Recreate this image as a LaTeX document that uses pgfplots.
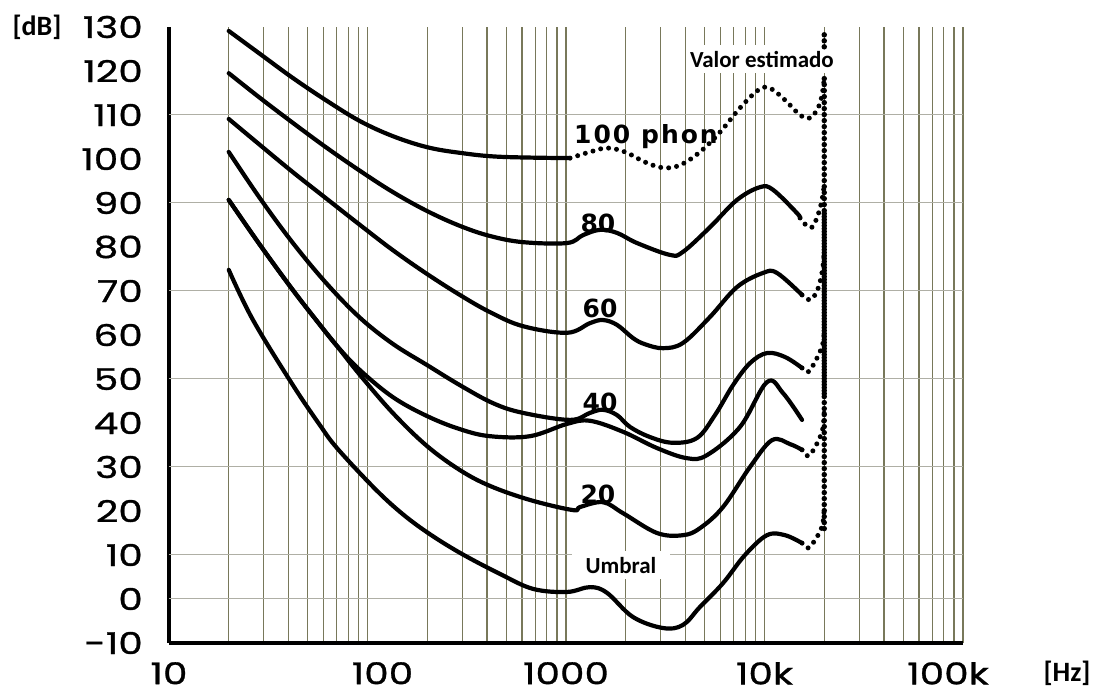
\documentclass[border=0pt]{standalone}
\usepackage{pgfplots}
\pgfplotsset{compat=1.18}
\usepackage{fontspec}
\setmainfont{Carlito}
\newfontfamily\tickfont[FakeStretch=1.3, FakeBold=1]{Poppins}
\newfontfamily\numfont{DejaVu Sans}
\newfontfamily\phonfont[LetterSpace=8]{DejaVu Sans}
\definecolor{gridv}{RGB}{120,120,90}
\definecolor{gridh}{RGB}{175,175,165}
\pgfplotsset{
  crv/.style={black, line width=4.2pt, smooth, tension=0.6, line join=round, line cap=round},
  dts/.style={black, line width=5pt, line cap=round, dash pattern=on 0pt off 8pt, smooth, tension=0.6},
}
\begin{document}
\begin{tikzpicture}
\useasboundingbox (-169pt,-52pt) rectangle (924pt,643pt);
\begin{axis}[
  at={(0pt,0pt)}, anchor=south west,
  scale only axis, width=794pt, height=616pt,
  xmode=log, xmin=10, xmax=100000, ymin=-10, ymax=130,
  clip=false,
  axis x line=bottom, axis y line=left,
  axis line style={-, line width=3.5pt, black},
  xtick={10,100,1000,10000,100000},
  xticklabels={10,{\kern30pt 100},1000,10k,{100k\kern30pt}},
  ytick={-10,0,...,130},
  yticklabels={-10,0,10,20,30,40,50,60,70,80,90,100,110,120,130},
  major tick length=0pt, minor tick length=0pt,
  xmajorgrids, xminorgrids, ymajorgrids=false,
  major grid style={draw=gridv, line width=1.2pt},
  minor grid style={draw=gridv, line width=1.2pt},
  extra y ticks={0,10,30,50,70,90,110},
  extra y tick labels={},
  extra y tick style={grid=major, major grid style={draw=gridh, line width=1pt}},
  ticklabel style={font=\tickfont\fontsize{30}{30}\selectfont, inner sep=0pt},
  yticklabel style={anchor=east, xshift=-26pt},
  xticklabel style={anchor=north, yshift=-19pt},
]
% labels with white background (drawn first)
\node[fill=white, font=\bfseries\fontsize{23}{23}\selectfont, inner xsep=14pt, inner ysep=6pt, anchor=base] at (axis cs:1892,5.9) {Umbral};
\node[fill=white, font=\bfseries\fontsize{23}{23}\selectfont, inner xsep=2pt, inner ysep=6pt, anchor=base] at (axis cs:9705,120.9) {Valor estimado};

% 100 phon
\addplot[crv] coordinates {(20,129.1) (28.7,123.9) (42.1,118.4) (62.5,113.2) (91.7,108.6) (134,105.2) (199,102.7) (292,101.4) (465,100.5) (1048,100.2)};
\addplot[dts] coordinates {(1048,100.2) (1321,101.6) (1609,102.5) (1983,101.6) (2500,99.3) (3082,98.0) (3752,98.6) (4732,101.6) (5969,106.1) (7527,111.6) (9330,115.7) (10660,116.1) (12686,113.4) (15100,110.0) (16955,109.3) (18602,111.6) (19488,114.5) (20000,118.4)};
% 80 phon
\addplot[crv] coordinates {(20,119.5) (28.7,113.9) (42.1,108.2) (62.5,102.5) (91.7,97.3) (134,92.5) (199,88.2) (292,84.8) (414,82.5) (607,81.1) (1012,80.9) (1218,82.7) (1484,83.9) (1807,83.2) (2279,80.9) (3341,78.2) (3885,78.9) (5314,84.5) (7270,90.7) (9491,93.6) (11036,93.0) (14580,87.7) (15100,86.6)};
\addplot[dts] coordinates {(15100,86.6) (16000,85.2) (17353,84.5) (18602,87.3) (19488,90.7) (20000,94.1)};
% 60 phon
\addplot[crv] coordinates {(20,109.1) (28.7,103.2) (42.1,97.0) (62.5,90.9) (91.7,85.0) (134,79.3) (199,73.9) (292,69.1) (414,65.2) (607,62.0) (1012,60.5) (1321,62.7) (1536,63.4) (1807,62.3) (2175,59.3) (2500,57.9) (3082,57.0) (3885,58.2) (5314,64.1) (7270,70.9) (9827,74.1) (11561,74.1) (15455,69.1)};
\addplot[dts] coordinates {(15455,69.1) (16955,68.0) (18490,70.2) (19600,74.8) (20000,79.3)};
% 40 phon
\addplot[crv] coordinates {(20,101.6) (28.7,91.1) (42.1,80.9) (62.5,71.6) (91.7,63.9) (134,58.0) (199,53.2) (292,48.6) (429,44.5) (607,42.3) (1048,40.7) (1321,42.3) (1536,43.0) (1807,41.8) (2101,39.1) (2650,36.8) (3459,35.5) (4571,36.6) (5631,41.8) (6940,48.6) (8453,53.6) (10294,55.9) (12686,55.0) (15455,52.5)};
\addplot[dts] coordinates {(15455,52.5) (16565,51.6) (17966,53.9) (19600,57.7) (20000,61.1)};
% second curve near 40
\addplot[crv] coordinates {(20,90.7) (28.7,80.5) (42.1,70.2) (57.6,62.3) (70.2,57.5) (91.7,52.0) (134,45.9) (199,41.6) (292,38.6) (414,37.0) (659,37.0) (1012,39.8) (1321,40.5) (1938,38.0) (2873,34.3) (4070,32.0) (5133,32.7) (7527,39.1) (10294,49.3) (12395,46.8) (15455,40.7)};
% 20 phon
\addplot[crv] coordinates {(20,90.7) (28.7,80.5) (42.1,70.2) (57.6,62.3) (70.2,57.5) (91.7,50.9) (134,42.3) (199,34.8) (292,29.3) (414,25.7) (659,22.5) (1085,20.2) (1176,20.9) (1536,22.0) (1938,19.5) (2873,15.0) (3885,14.5) (4732,16.1) (6180,20.9) (8453,30.0) (10910,36.1) (13446,35.2) (15455,33.9)};
\addplot[dts] coordinates {(15455,33.9) (16565,32.5) (17966,34.5) (19600,38.4) (20000,43.0)};
% threshold
\addplot[crv] coordinates {(20,74.8) (26.5,63.4) (42.1,48.6) (57.6,39.5) (70.2,34.3) (106.6,25.5) (145.8,19.8) (199,15.2) (292,10.5) (465,5.7) (682,2.3) (1012,1.6) (1321,2.7) (1609,1.4) (2175,-4.1) (3082,-6.6) (3885,-5.9) (4732,-1.8) (6180,3.6) (7976,10.0) (10294,14.5) (12686,14.5) (15455,12.7)};
\addplot[dts] coordinates {(15455,12.7) (16565,11.6) (17966,13.4) (19600,16.8) (20000,21.4)};
% vertical estimated line
\addplot[black, line width=5.5pt, line cap=round, dash pattern=on 0pt off 6pt] coordinates {(20000,16) (20000,119)};
\addplot[black, line width=5.5pt, line cap=round, dash pattern=on 0pt off 6pt, dash phase=3pt] coordinates {(20000,46) (20000,88)};
\addplot[black, line width=5.5pt, line cap=round, dash pattern=on 0pt off 6pt] coordinates {(20000,125.5) (20000,129.5)};

% curve labels
\node[font=\phonfont\bfseries\fontsize{25}{25}\selectfont, anchor=base] at (axis cs:2529,103.6) {100 phon};
\node[font=\numfont\bfseries\fontsize{25}{25}\selectfont, anchor=base] at (axis cs:1449,83.2) {80};
\node[font=\numfont\bfseries\fontsize{25}{25}\selectfont, anchor=base] at (axis cs:1484,63.9) {60};
\node[font=\numfont\bfseries\fontsize{25}{25}\selectfont, anchor=base] at (axis cs:1484,42.5) {40};
\node[font=\numfont\bfseries\fontsize{25}{25}\selectfont, anchor=base] at (axis cs:1449,21.8) {20};
\end{axis}
\node[font=\bfseries\fontsize{28}{28}\selectfont] at (-132pt,616pt) {[dB]};
\node[font=\bfseries\fontsize{28}{28}\selectfont] at (898pt,-30pt) {[Hz]};
\end{tikzpicture}
\end{document}
